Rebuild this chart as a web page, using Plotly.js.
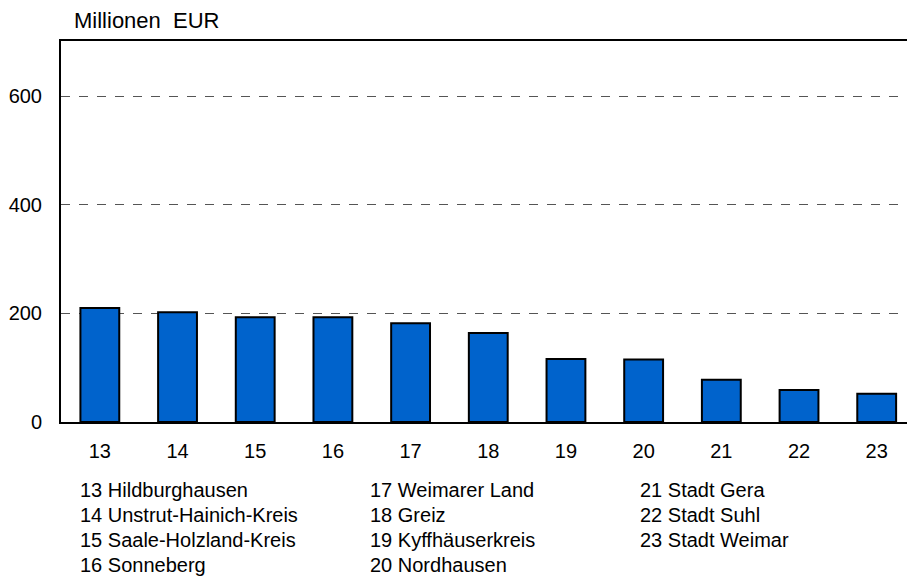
<!DOCTYPE html>
<html>
<head>
<meta charset="utf-8">
<script src="https://cdn.plot.ly/plotly-3.0.1.min.js"></script>
<style>html,body{margin:0;padding:0;background:#fff}</style>
</head>
<body>
<div id="chart" style="width:907px;height:578px"></div>
<script>
const categories = ["13","14","15","16","17","18","19","20","21","22","23"];
const values = [210, 202, 193, 193, 182, 164, 116, 115, 78, 59, 52];
const regionNames = ["13 Hildburghausen","14 Unstrut-Hainich-Kreis","15 Saale-Holzland-Kreis","16 Sonneberg",
  "17 Weimarer Land","18 Greiz","19 Kyffhäuserkreis","20 Nordhausen",
  "21 Stadt Gera","22 Stadt Suhl","23 Stadt Weimar"];
const yTicks = [0, 200, 400, 600];
const unitLabel = "Millionen  EUR";

const font = {family: "Liberation Sans, Arial, sans-serif", size: 20, color: "#000"};
const titleFont = {family: "Liberation Sans, Arial, sans-serif", size: 22, color: "#000"};

const annotations = [{
  text: unitLabel, xref: "paper", yref: "paper", x: (72 - 61) / 846, xanchor: "left",
  y: 1, yanchor: "middle", yshift: 21, showarrow: false, font: titleFont
}];
const colX = [78, 368, 638];
regionNames.forEach((t, i) => {
  const col = Math.floor(i / 4), row = i % 4;
  annotations.push({
    text: t, xref: "paper", yref: "paper",
    x: (colX[col] - 61) / 846, xanchor: "left",
    y: 0, yanchor: "middle", yshift: -(490 + row * 25 - 422),
    showarrow: false, font: font
  });
});

Plotly.newPlot("chart", [{
  type: "bar", x: categories, y: values, width: 0.5,
  marker: {color: "#0063CC", line: {color: "#000", width: 2}},
  hoverinfo: "x+y"
}], {
  width: 907, height: 578,
  margin: {l: 61, r: 0, t: 41, b: 156},
  paper_bgcolor: "#fff", plot_bgcolor: "#fff",
  font: font,
  showlegend: false,
  bargap: 0.5,
  xaxis: {
    type: "category", range: [-0.5, 10.39],
    showline: true, linecolor: "#000", linewidth: 2, mirror: true,
    showgrid: false, ticks: "", tickfont: font, ticklabelstandoff: 10, zeroline: false
  },
  yaxis: {
    range: [0, 702], tickvals: yTicks, ticktext: yTicks.map(String),
    showline: true, linecolor: "#000", linewidth: 2,
    showgrid: true, gridcolor: "#555", griddash: "dash", gridwidth: 1,
    ticks: "", tickfont: font, ticklabelstandoff: 13, zeroline: false
  },
  annotations: annotations
}, {displayModeBar: false, staticPlot: true});
</script>
</body>
</html>
